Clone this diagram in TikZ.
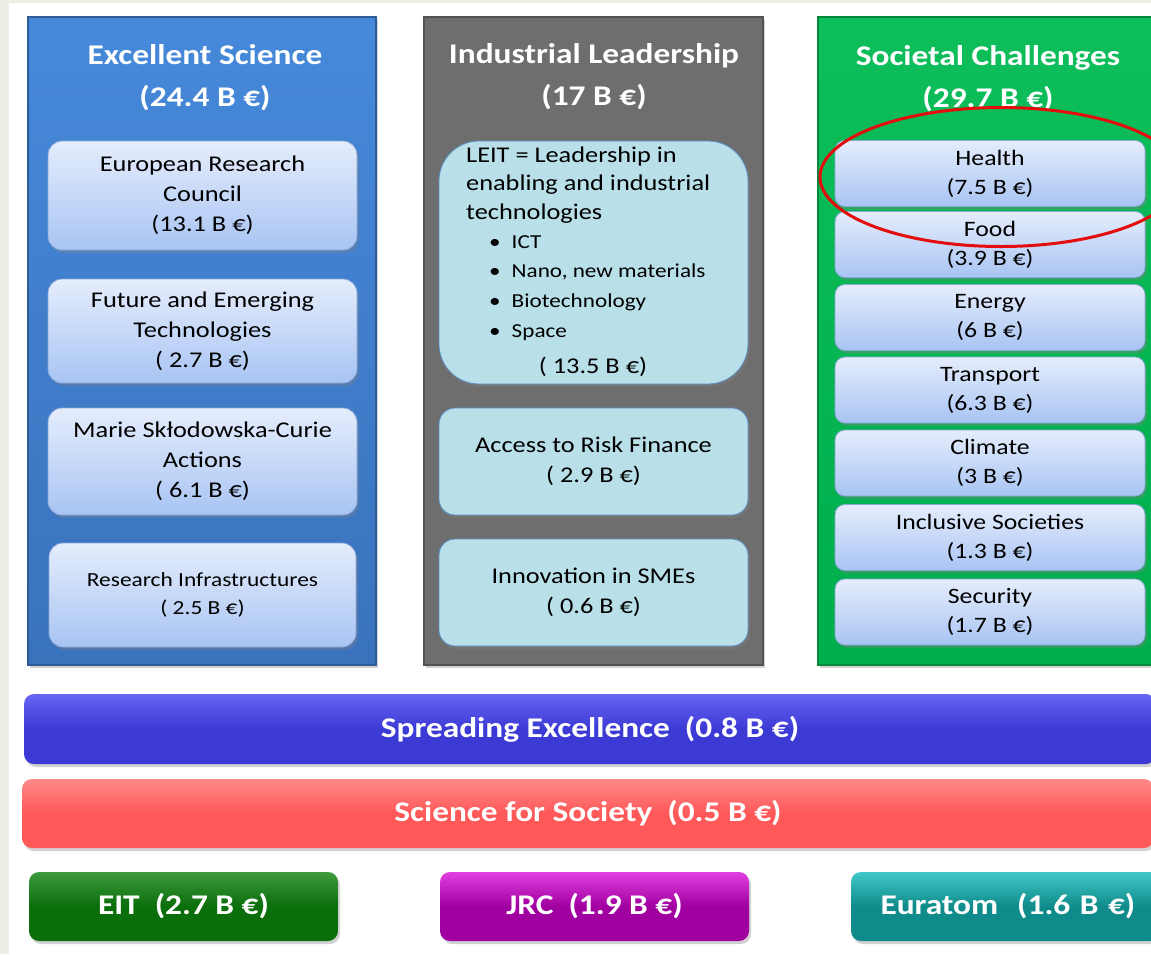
\documentclass[tikz,border=0pt]{standalone}
\usepackage{fontspec}
\setmainfont{Carlito}[FakeStretch=1.17]
\usetikzlibrary{shadows,shapes.geometric}
\definecolor{bgouter}{HTML}{EFEEE6}
\definecolor{bluetop}{HTML}{4689DA}
\definecolor{bluebot}{HTML}{3A72BC}
\definecolor{blueedge}{HTML}{2E5C97}
\definecolor{graycol}{HTML}{6E6E6E}
\definecolor{grayedge}{HTML}{525252}
\definecolor{greentop}{HTML}{0DBE5A}
\definecolor{greenbot}{HTML}{00AE4C}
\definecolor{greenedge}{HTML}{00873A}
\definecolor{inboxtop}{HTML}{E5EDFC}
\definecolor{inboxbot}{HTML}{A8C4F3}
\definecolor{inboxedge}{HTML}{8AA8DA}
\definecolor{leitfill}{HTML}{B9DFE8}
\definecolor{leitedge}{HTML}{5B8EC4}
\definecolor{spreadc}{HTML}{3C3AD5}
\definecolor{spreadt}{HTML}{6765F2}
\definecolor{sciencec}{HTML}{FF5858}
\definecolor{sciencet}{HTML}{FF8A8A}
\definecolor{eitc}{HTML}{0A6E0A}
\definecolor{eitt}{HTML}{3E9A3E}
\definecolor{jrcc}{HTML}{A000A0}
\definecolor{jrct}{HTML}{E040E0}
\definecolor{euratomc}{HTML}{108B8B}
\definecolor{euratomt}{HTML}{40C8C8}
\definecolor{hlred}{HTML}{E30D0D}
\tikzset{
  shd/.style={drop shadow={opacity=0.35,shadow xshift=2pt,shadow yshift=-3pt}},
  colbox/.style={shd,line width=1.2pt,outer sep=0pt,inner sep=0pt,minimum height=648},
  coltitle/.style={text=white,font=\bfseries\fontsize{28.5}{42}\selectfont,align=center,inner sep=0pt},
  inbox/.style={shd,draw=inboxedge,line width=0.8pt,top color=inboxtop,bottom color=inboxbot,
    rounded corners=14pt,outer sep=0pt,inner sep=0pt,align=center,text=black,
    font=\fontsize{22.5}{30}\selectfont},
  scbox/.style={inbox,rounded corners=10pt,minimum width=310,minimum height=66,
    font=\fontsize{22}{29}\selectfont},
  leitbox/.style={shd,draw=leitedge,line width=0.8pt,fill=leitfill,outer sep=0pt,inner sep=0pt,
    align=center,text=black,font=\fontsize{22.5}{30}\selectfont,minimum width=309},
  bar/.style={shd,rounded corners=10pt,outer sep=0pt,inner sep=0pt,text=white,
    font=\bfseries\fontsize{28.5}{30}\selectfont},
}
\begin{document}
\begin{tikzpicture}[x=1pt,y=-1pt]
\clip (0,0) rectangle (1151,954);
\fill[bgouter] (0,0) rectangle (1151,954);
\fill[white] (9,3) rectangle (1151,954);

% columns
\node[colbox,draw=blueedge,top color=bluetop,bottom color=bluebot,minimum width=348] (colES) at (202,341) {};
\node[colbox,draw=grayedge,fill=graycol,minimum width=339] (colIL) at (593.5,341) {};
\node[colbox,draw=greenedge,top color=greentop,bottom color=greenbot,minimum width=342] (colSC) at (989,341) {};

\node[coltitle] (tES) at (205,78) {Excellent Science\\(24.4 B €)};
\node[coltitle] (tIL) at (594,77) {Industrial Leadership\\(17 B €)};
\node[coltitle] (tSC) at (988,79) {Societal Challenges\\(29.7 B €)};

% Excellent science boxes
\node[inbox,minimum width=309,minimum height=109] (erc) at (202.5,195.5) {European Research\\Council\\(13.1 B €)};
\node[inbox,minimum width=309,minimum height=104] (fet) at (202.5,331) {Future and Emerging\\Technologies\\( 2.7 B €)};
\node[inbox,minimum width=309,minimum height=107] (msca) at (202.5,461.5) {Marie Skłodowska-Curie\\Actions\\( 6.1 B €)};
\node[inbox,minimum width=307,minimum height=104,font=\fontsize{20}{28}\selectfont] (ri) at (202.5,595) {Research Infrastructures\\( 2.5 B €)};

% Industrial leadership boxes
\node[leitbox,rounded corners=40pt,minimum height=243] (leit) at (593.5,262.5) {};
\node[anchor=west,align=left,inner sep=0pt,font=\fontsize{22.5}{28.5}\selectfont] (leitt) at (466,185) {LEIT = Leadership in\\enabling and industrial\\technologies};
\node[anchor=west,align=left,inner sep=0pt,font=\fontsize{19.8}{29.7}\selectfont] (leitb) at (489,288) {\textbullet\hspace{11pt}ICT\\\textbullet\hspace{11pt}Nano, new materials\\\textbullet\hspace{11pt}Biotechnology\\\textbullet\hspace{11pt}Space};
\node[inner sep=0pt,font=\fontsize{22.5}{30}\selectfont] (leitv) at (593,367) {( 13.5 B €)};
\node[leitbox,rounded corners=16pt,minimum height=107] (arf) at (593.5,461.5) {Access to Risk Finance\\( 2.9 B €)};
\node[leitbox,rounded corners=16pt,minimum height=107] (sme) at (593.5,592.5) {Innovation in SMEs\\( 0.6 B €)};

% Societal challenges boxes
\node[scbox] (health) at (990,173.5) {Health\\(7.5 B €)};
\node[scbox] (food) at (990,244.5) {Food\\(3.9 B €)};
\node[scbox] (energy) at (990,317.5) {Energy\\(6 B €)};
\node[scbox] (transport) at (990,390) {Transport\\(6.3 B €)};
\node[scbox] (climate) at (990,463) {Climate\\(3 B €)};
\node[scbox] (inclusive) at (990,537.5) {Inclusive Societies\\(1.3 B €)};
\node[scbox] (security) at (990,612) {Security\\(1.7 B €)};

% highlight ellipse
\node[draw=hlred,line width=3pt,ellipse,minimum width=362,minimum height=139,inner sep=0pt] (hl) at (1001,177) {};

% bottom bars
\node[bar,top color=spreadt,bottom color=spreadc,middle color=spreadc,minimum width=1132,minimum height=70] (spread) at (590,729) {Spreading Excellence~ (0.8 B €)};
\node[bar,top color=sciencet,bottom color=sciencec,middle color=sciencec,minimum width=1132,minimum height=69] (science) at (588,813.5) {Science for Society~ (0.5 B €)};
\node[bar,top color=eitt,bottom color=eitc,middle color=eitc,minimum width=309,minimum height=69] (eit) at (183.5,906.5) {EIT~ (2.7 B €)};
\node[bar,top color=jrct,bottom color=jrcc,middle color=jrcc,minimum width=309,minimum height=69] (jrc) at (594.5,906.5) {JRC~ (1.9 B €)};
\node[bar,top color=euratomt,bottom color=euratomc,middle color=euratomc,minimum width=309,minimum height=69,text width=300,align=left] (euratom) at (1005.5,906.5) {\hspace{25pt}Euratom~ (1.6 B €)};
\end{tikzpicture}
\end{document}
